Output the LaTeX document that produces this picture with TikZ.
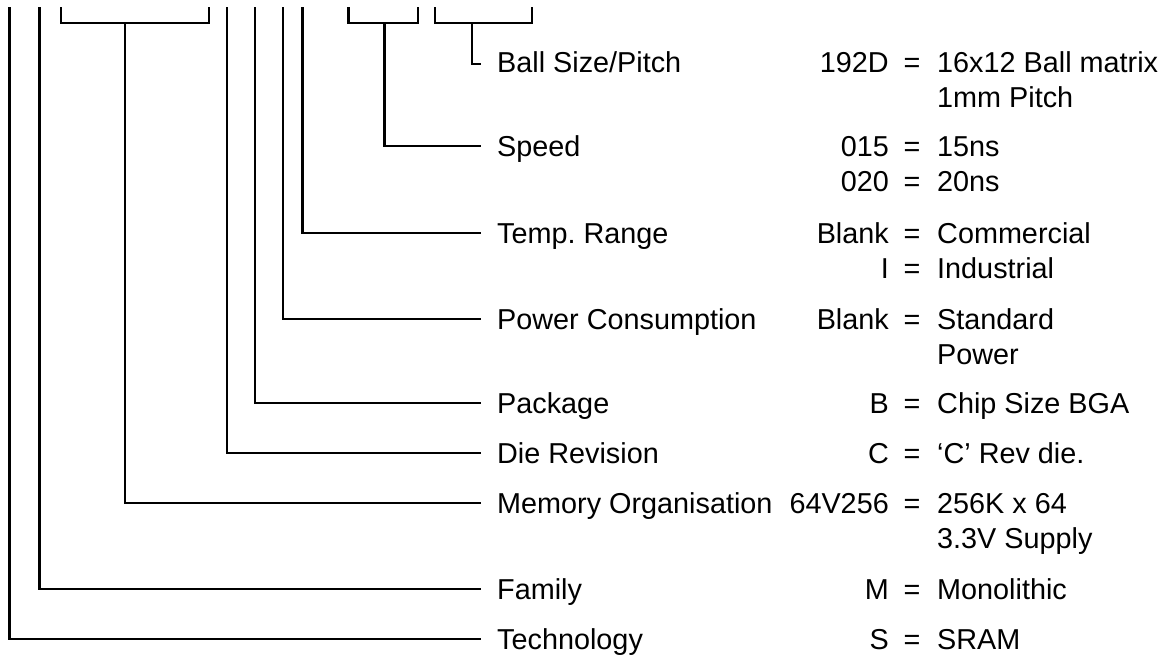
\documentclass[tikz,border=0pt]{standalone}
\usepackage{fontspec}
\setmainfont{Liberation Sans}
\frenchspacing
\begin{document}
\begin{tikzpicture}[x=1pt,y=-1pt,
  conn/.style={line width=2.4pt},
  txt/.style={inner sep=0pt, font=\fontsize{28.8}{34}\selectfont},
  lbl/.style={txt, anchor=base west},
  keyt/.style={txt, anchor=base east},
  eqt/.style={txt, anchor=base},
  valt/.style={txt, anchor=base west}]
\useasboundingbox (0,0) rectangle (1173,657);

% --- top coordinates of the code fields
\coordinate (tTech) at (9.3,7);
\coordinate (tFam) at (39.3,7);
\coordinate (mL) at (61,7);
\coordinate (mR) at (209,7);
\coordinate (tMem) at (125,22.7);
\coordinate (tDie) at (226.7,7);
\coordinate (tPkg) at (255,7);
\coordinate (tPow) at (282.7,7);
\coordinate (tTmp) at (302.3,7);
\coordinate (sL) at (348.3,7);
\coordinate (sR) at (417.7,7);
\coordinate (tSpd) at (384.3,22.7);
\coordinate (bL) at (435,7);
\coordinate (bR) at (531.7,7);
\coordinate (tBall) at (472,22.7);

% --- line ends
\coordinate (eBall) at (480.5,64);
\coordinate (eSpd) at (480.5,146);
\coordinate (eTmp) at (480.5,233);
\coordinate (ePow) at (480.5,319);
\coordinate (ePkg) at (480.5,403);
\coordinate (eDie) at (480.5,453);
\coordinate (eMem) at (480.5,503);
\coordinate (eFam) at (480.5,589);
\coordinate (eTech) at (480.5,639);

% --- brackets
\draw[conn] (mL) -- ++(0,15.7) -| (mR);
\draw[conn] (sL) -- ++(0,15.7) -| (sR);
\draw[conn] (bL) -- ++(0,15.7) -| (bR);

% --- connectors
\draw[conn] (tBall) |- (eBall);
\draw[conn] (tSpd) |- (eSpd);
\draw[conn] (tTmp) |- (eTmp);
\draw[conn] (tPow) |- (ePow);
\draw[conn] (tPkg) |- (ePkg);
\draw[conn] (tDie) |- (eDie);
\draw[conn] (tMem) |- (eMem);
\draw[conn] (tFam) |- (eFam);
\draw[conn] (tTech) |- (eTech);

% --- labels
\node[lbl] (lBall) at (497,72) {Ball Size/Pitch};
\node[lbl] (lSpd) at (497,156) {Speed};
\node[lbl] (lTmp) at (497,243) {Temp. Range};
\node[lbl] (lPow) at (497,329) {Power Consumption};
\node[lbl] (lPkg) at (497,413) {Package};
\node[lbl] (lDie) at (497,463) {Die Revision};
\node[lbl] (lMem) at (497,513) {Memory Organisation};
\node[lbl] (lFam) at (497,599) {Family};
\node[lbl] (lTech) at (497,649) {Technology};

% --- keys, equals, values
\node[keyt] (k1) at (889,72) {192D};
\node[eqt] (q1) at (912,72) {=};
\node[valt] (v1) at (937,72) {16x12 Ball matrix};
\node[valt] (v1b) at (937,107) {1mm Pitch};

\node[keyt] (k2) at (889,156) {015};
\node[eqt] (q2) at (912,156) {=};
\node[valt] (v2) at (937,156) {15ns};
\node[keyt] (k2b) at (889,191) {020};
\node[eqt] (q2b) at (912,191) {=};
\node[valt] (v2b) at (937,191) {20ns};

\node[keyt] (k3) at (889,243) {Blank};
\node[eqt] (q3) at (912,243) {=};
\node[valt] (v3) at (937,243) {Commercial};
\node[keyt] (k3b) at (889,278) {I};
\node[eqt] (q3b) at (912,278) {=};
\node[valt] (v3b) at (937,278) {Industrial};

\node[keyt] (k4) at (889,329) {Blank};
\node[eqt] (q4) at (912,329) {=};
\node[valt] (v4) at (937,329) {Standard};
\node[valt] (v4b) at (937,364) {Power};

\node[keyt] (k5) at (889,413) {B};
\node[eqt] (q5) at (912,413) {=};
\node[valt] (v5) at (937,413) {Chip Size BGA};

\node[keyt] (k6) at (889,463) {C};
\node[eqt] (q6) at (912,463) {=};
\node[valt] (v6) at (937,463) {‘C’ Rev die.};

\node[keyt] (k7) at (889,513) {64V256};
\node[eqt] (q7) at (912,513) {=};
\node[valt] (v7) at (937,513) {256K x 64};
\node[valt] (v7b) at (937,548) {3.3V Supply};

\node[keyt] (k8) at (889,599) {M};
\node[eqt] (q8) at (912,599) {=};
\node[valt] (v8) at (937,599) {Monolithic};

\node[keyt] (k9) at (889,649) {S};
\node[eqt] (q9) at (912,649) {=};
\node[valt] (v9) at (937,649) {SRAM};
\end{tikzpicture}
\end{document}
